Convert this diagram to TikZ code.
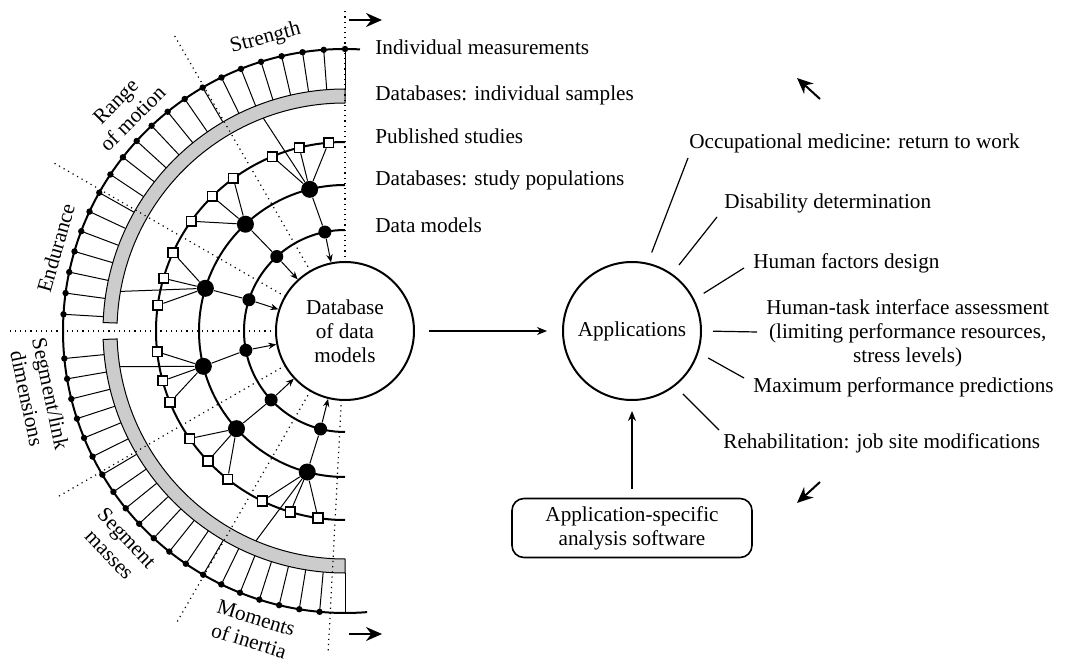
\documentclass[tikz,border=0pt]{standalone}
\usepackage{fontspec}
\setmainfont{Liberation Serif}
\usetikzlibrary{positioning,arrows.meta,calc}

\begin{document}
\begin{tikzpicture}[x=1pt,y=1pt,
                    every node/.style={font=\fontsize{10.6}{12}\selectfont},
                    ring/.style={line width=1pt},
                    link/.style={line width=0.5pt},
                    divider/.style={dotted,line width=0.6pt},
                    bigdot/.style={circle,fill,inner sep=0pt,minimum size=8.5pt},
                    smalldot/.style={circle,fill,inner sep=0pt,minimum size=6.5pt},
                    sample/.style={draw,fill=white,line width=0.8pt,inner sep=0pt,
                                   minimum size=4.8pt},
                    band/.style={draw,fill=gray!40,line width=0.5pt},
                    hub/.style={circle,draw,line width=1pt,minimum size=69pt,
                                inner sep=0pt,align=center},
                    txt/.style={inner sep=0pt,anchor=west,align=left},
                    seclabel/.style={inner sep=0pt,align=center},
                    spoke/.style={line width=0.6pt,shorten <=5.5pt},
                    flow/.style={-{Stealth[length=4pt,width=3.2pt]},line width=0.5pt},
                    bigarrow/.style={-{Stealth[length=8pt,width=7pt]},line width=1pt}]
\useasboundingbox (0,0) rectangle (533,332.5);
\coordinate (C) at (172.5,167);

% outer ring with ticks
\draw[ring] ($(C)+(86.95:141)$) arc[start angle=86.95,end angle=274.5,radius=141];
\foreach \k in {0,...,20}{
  \pgfmathsetmacro\a{90+4.33*\k}
  \draw[link] ($(C)+(\a:121)$) -- ($(C)+(\a:141)$);
  \fill ($(C)+(\a:141)$) circle[radius=1.6];
}
\foreach \k in {0,...,19}{
  \pgfmathsetmacro\a{185.6+4.17*\k}
  \draw[link] ($(C)+(\a:121)$) -- ($(C)+(\a:141)$);
  \fill ($(C)+(\a:141)$) circle[radius=1.6];
}
\draw[link] ($(C)+(270:121)$) -- ($(C)+(270:141)$);

% sample bands
\filldraw[band] ($(C)+(90:121)$) arc[start angle=90,end angle=178,radius=121]
   -- ($(C)+(178:114)$) arc[start angle=178,end angle=90,radius=114] -- cycle;
\filldraw[band] ($(C)+(182:121)$) arc[start angle=182,end angle=270,radius=121]
   -- ($(C)+(270:114)$) arc[start angle=270,end angle=182,radius=114] -- cycle;

% sector dividers
\foreach \a/\r in {90/161.5,120/171,150/169,180/167.5,210/167,240/168,267/160}
  \draw[divider] ($(C)+(\a:34.5)$) -- ($(C)+(\a:\r)$);

% inner rings
\foreach \r in {94.5,73,50.5}
  \draw[ring] ($(C)+(90:\r)$) arc[start angle=90,end angle=270,radius=\r];

\node[hub,fill=white] (db) at (C) {Database\\of data\\models};

% studies, populations, models
\foreach \k/\sa/\sb/\sc/\ba/\da in {1/95/104/112.6/104/101.5,
                                    2/126.2/134.6/144.5/133/132.5,
                                    3/155.5/163.8/172.2/163/162,
                                    4/186.3/195.3/202.2/194/191,
                                    5/214.7/223.5/231.6/222/223,
                                    6/244.1/253.2/261.8/255/256}{
  \node[bigdot]   (bd-\k) at ($(C)+(\ba:73)$) {};
  \node[smalldot] (sd-\k) at ($(C)+(\da:50.5)$) {};
  \foreach \j/\s in {1/\sa,2/\sb,3/\sc}{
    \node[sample] (sq-\k-\j) at ($(C)+(\s:94.5)$) {};
    \draw[link] (sq-\k-\j) -- (bd-\k);
  }
  \draw[link] (bd-\k) -- (sd-\k);
  \draw[flow] (sd-\k) -- (db);
}
\foreach \a/\k in {111/1,170/3,189/4,247/6}{
  \coordinate (bn-\k) at ($(C)+(\a:114)$);
  \draw[link] (bn-\k) -- (bd-\k);
}

% sector labels
\node[seclabel,anchor=south,rotate=15.2] (sec-1) at ($(C)+(105.2:146.5)$) {Strength};
\node[seclabel,anchor=south,rotate=45]   (sec-2) at ($(C)+(135:146.5)$) {Range\\of motion};
\node[seclabel,anchor=south,rotate=74]   (sec-3) at ($(C)+(164:146.5)$) {Endurance};
\node[seclabel,anchor=north,rotate=282]  (sec-4) at ($(C)+(192:146.5)$) {Segment/link\\dimensions};
\node[seclabel,anchor=north,rotate=313.5] (sec-5) at ($(C)+(223.5:146.5)$) {Segment\\masses};
\node[seclabel,anchor=north,rotate=342.8] (sec-6) at ($(C)+(252.8:146.5)$) {Moments\\of inertia};

% level labels
\node[txt] (lvl-1) at (187.5,309)   {Individual measurements};
\node[txt] (lvl-2) at (187.5,285)   {Databases: individual samples};
\node[txt] (lvl-3) at (187.5,264.5) {Published studies};
\node[txt] (lvl-4) at (187.5,242.5) {Databases: study populations};
\node[txt] (lvl-5) at (187.5,220)   {Data models};

\coordinate (ta0) at (174.5,322.5); \coordinate (ta1) at (191,322.5);
\coordinate (ba0) at (174.5,15.5);  \coordinate (ba1) at (191,15.5);
\draw[bigarrow] (ta0) -- (ta1);
\draw[bigarrow] (ba0) -- (ba1);

% applications
\node[hub] (app) at (316,167) {Applications};
\draw[-{Stealth[length=5pt,width=4pt]},line width=0.6pt,
      shorten <=7pt,shorten >=7.5pt] (db) -- (app);
\node[draw,rounded corners=6pt,line width=0.8pt,minimum width=120pt,
      minimum height=29.5pt,align=center] (sw) at (316,68.5)
      {Application-specific\\analysis software};
\draw[-{Stealth[length=5pt,width=4pt]},line width=0.8pt,
      shorten <=4.25pt,shorten >=5pt] (sw) -- (app);

\node[txt] (use-1) at (344.5,261) {Occupational medicine: return to work};
\node[txt] (use-2) at (362,231)   {Disability determination};
\node[txt] (use-3) at (376.5,201) {Human factors design};
\node[txt,align=center] (use-4) at (383,166)
      {Human-task interface assessment\\(limiting performance resources,\\stress levels)};
\node[txt] (use-5) at (376.5,139) {Maximum performance predictions};
\node[txt] (use-6) at (361.5,111) {Rehabilitation: job site modifications};
\draw[spoke] (app.77.7) -- ([shift={(-0.5,-7.5)}]use-1.west);
\draw[spoke] (app.55.3) -- ([shift={(-3.5,-7)}]use-2.west);
\draw[spoke] (app.27)   -- ([shift={(-4.5,-2.5)}]use-3.west);
\draw[spoke] (app.0)    -- ([shift={(-4.5,0.5)}]use-4.west);
\draw[spoke] (app.-18)  -- ([shift={(-4.5,4.5)}]use-5.west);
\draw[spoke] (app.-52)  -- ([shift={(-2,6.5)}]use-6.west);

\coordinate (ua0) at (410,283);  \coordinate (ua1) at (398.5,293.5);
\coordinate (da0) at (410,91.5); \coordinate (da1) at (398.5,81);
\draw[bigarrow] (ua0) -- (ua1);
\draw[bigarrow] (da0) -- (da1);
\end{tikzpicture}
\end{document}
